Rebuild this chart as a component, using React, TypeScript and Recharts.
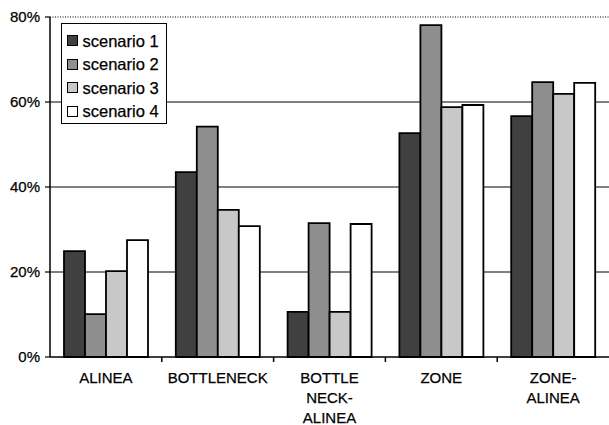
import React from 'react';
import { BarChart, Bar, XAxis, YAxis, CartesianGrid, ReferenceLine, Legend } from 'recharts';

const CATEGORIES = ['ALINEA', 'BOTTLENECK', 'BOTTLE NECK-ALINEA', 'ZONE', 'ZONE-ALINEA'];
const LABEL_LINES = [['ALINEA'], ['BOTTLENECK'], ['BOTTLE', 'NECK-', 'ALINEA'], ['ZONE'], ['ZONE-', 'ALINEA']];

const SCENARIO_1 = [24.9, 43.5, 10.6, 52.7, 56.7];
const SCENARIO_2 = [10.1, 54.2, 31.5, 78.1, 64.7];
const SCENARIO_3 = [20.2, 34.6, 10.6, 58.8, 61.9];
const SCENARIO_4 = [27.5, 30.8, 31.3, 59.3, 64.5];

const SERIES_NAMES = ['scenario 1', 'scenario 2', 'scenario 3', 'scenario 4'];
const SERIES_COLORS = ['#404040', '#8e8e8e', '#c8c8c8', '#ffffff'];

const Y_TICKS = [0, 20, 40, 60, 80];
const GRID_LINES = [20, 40, 60];

const FONT = '"Liberation Sans", Arial, Helvetica, sans-serif';

const data = CATEGORIES.map((name, i) => ({
  name,
  s1: SCENARIO_1[i],
  s2: SCENARIO_2[i],
  s3: SCENARIO_3[i],
  s4: SCENARIO_4[i],
}));

// category label, plus a tick mark on the left edge of each band
const XTick = (props: any) => {
  const { x, y, payload } = props;
  const idx = CATEGORIES.indexOf(payload.value);
  const half = payload.offset ?? 0;
  const lines = LABEL_LINES[idx] || [payload.value];
  return (
    <g>
      {idx > 0 && <line x1={x - half} x2={x - half} y1={y} y2={y + 5} stroke="#000" strokeWidth={1.5} />}
      <text x={x} y={y} textAnchor="middle" fontSize={15} fontFamily={FONT} fill="#000" stroke="#000" strokeWidth={0.25}>
        {lines.map((l, i) => (
          <tspan key={i} x={x} dy={i === 0 ? 26 : 20}>{l}</tspan>
        ))}
      </text>
    </g>
  );
};

const LegendBox = ({ payload }: any) => (
  <div style={{ border: '1.5px solid #000', background: '#fff', width: 106, boxSizing: 'border-box', padding: '5px 4px 0 4.5px' }}>
    {(payload || []).map((entry: any, i: number) => (
      <div key={i} style={{ display: 'flex', alignItems: 'center', height: 23.5 }}>
        <span style={{ width: 11, height: 11, boxSizing: 'border-box', border: '1.5px solid #000', background: SERIES_COLORS[i], marginRight: 5 }} />
        <span style={{ fontFamily: FONT, fontSize: 16.5, color: '#000', lineHeight: '16px', WebkitTextStroke: '0.25px #000' }}>{entry.value}</span>
      </div>
    ))}
  </div>
);

const gridCoords = ({ yAxis, offset }: any) =>
  GRID_LINES.map(v =>
    yAxis && typeof yAxis.scale === 'function'
      ? yAxis.scale(v)
      : offset.top + offset.height * (1 - v / 80)
  );

export default function App() {
  return (
    <div style={{ position: 'absolute', left: 0, top: 0, width: 609, height: 425, background: '#fff' }}>
      <BarChart
        width={609}
        height={425}
        data={data}
        margin={{ top: 17, right: 0, left: 0, bottom: 0 }}
        barCategoryGap={14}
        barGap={0}
      >
        <CartesianGrid vertical={false} stroke="#000" strokeWidth={1} horizontalCoordinatesGenerator={gridCoords} />
        <ReferenceLine y={80} stroke="#000" strokeWidth={1.2} strokeDasharray="1 1.5" />
        <XAxis
          dataKey="name"
          height={68}
          interval={0}
          tickSize={0}
          tickMargin={0}
          tickLine={false}
          axisLine={{ stroke: '#000', strokeWidth: 1.5 }}
          tick={<XTick />}
        />
        <YAxis
          width={50}
          domain={[0, 80]}
          ticks={Y_TICKS}
          interval={0}
          tickSize={5}
          tickMargin={5}
          tickFormatter={(v: number) => `${v}%`}
          axisLine={{ stroke: '#000', strokeWidth: 1.5 }}
          tickLine={{ stroke: '#000', strokeWidth: 1.2 }}
          tick={{ fill: '#000', fontSize: 15, fontFamily: FONT, stroke: '#000', strokeWidth: 0.25 }}
        />
        <Legend
          layout="vertical"
          align="center"
          verticalAlign="middle"
          content={<LegendBox />}
          wrapperStyle={{ left: 61, top: 23, width: 106 }}
        />
        <Bar dataKey="s1" name={SERIES_NAMES[0]} fill={SERIES_COLORS[0]} stroke="#000" strokeWidth={1.8} isAnimationActive={false} />
        <Bar dataKey="s2" name={SERIES_NAMES[1]} fill={SERIES_COLORS[1]} stroke="#000" strokeWidth={1.8} isAnimationActive={false} />
        <Bar dataKey="s3" name={SERIES_NAMES[2]} fill={SERIES_COLORS[2]} stroke="#000" strokeWidth={1.8} isAnimationActive={false} />
        <Bar dataKey="s4" name={SERIES_NAMES[3]} fill={SERIES_COLORS[3]} stroke="#000" strokeWidth={1.8} isAnimationActive={false} />
      </BarChart>
    </div>
  );
}
